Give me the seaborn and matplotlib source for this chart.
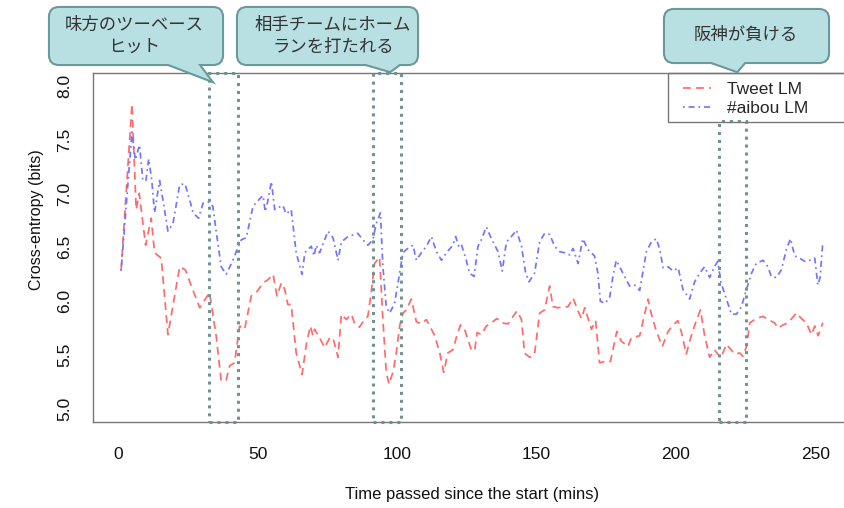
import matplotlib
matplotlib.use("Agg")
import matplotlib.pyplot as plt
import matplotlib.transforms as mtransforms
from matplotlib.patches import FancyBboxPatch, Polygon, Rectangle
import pandas as pd
import seaborn as sns

# ---- data (minutes, bits) ----
tweet_t = [1, 4.9, 6.4, 7.5, 9.8, 11.8, 13, 15.4, 17.8, 22, 24.1, 26.2, 29.2, 32.7,
           35.1, 36.9, 38.7, 39.9, 41.7, 43.5, 45.3, 47.7, 49.5, 51.9, 53.7, 55.5,
           56.9, 58.5, 59.7, 60.8, 62, 63.8, 65.9, 67.5, 68.9, 69.8, 70.4, 72.2, 74,
           75.8, 77, 78.8, 80, 81.8, 83.6, 84.8, 86.5, 88.3, 89.5, 90.7, 91.9, 93.7,
           94.9, 96.1, 97.1, 98.6, 99.7, 100.9, 102.1, 103.3, 105.1, 106.9, 108.7,
           110.5, 113.5, 115.3, 116.7, 118.2, 120, 121.2, 122.7, 124.2, 126.6, 127.8,
           128.7, 130.2, 132, 133.8, 135.8, 137.4, 139.8, 141.6, 143, 144.6, 145.7,
           147.5, 149.3, 151.1, 152.9, 154.7, 155.9, 157.7, 161.3, 163.1, 164.9,
           166.1, 167.3, 169.7, 171.2, 172.6, 174.5, 176.5, 178.8, 180.4, 182.8, 184,
           187, 190, 191.2, 193, 195.1, 197.2, 199, 200.7, 201.9, 203.7, 205.5, 207.3,
           208.8, 210.3, 212.1, 213.8, 215, 216.2, 218.1, 221.1, 222.9, 224, 225.3,
           226.5, 228.8, 231.2, 233, 235.4, 236.6, 238.4, 240.2, 243.2, 245, 246.8,
           248.6, 249.8, 251, 252.7]
tweet_ce = [6.29, 7.83, 6.85, 7.00, 6.52, 6.77, 6.45, 6.40, 5.69, 6.32, 6.29, 6.14, 5.94, 6.08,
            5.68, 5.26, 5.27, 5.40, 5.43, 5.77, 5.74, 6.05, 6.08, 6.17, 6.20, 6.25,
            6.05, 6.17, 6.11, 5.97, 5.97, 5.52, 5.32, 5.61, 5.77, 5.68, 5.74, 5.66, 5.57,
            5.66, 5.66, 5.48, 5.88, 5.83, 5.88, 5.79, 5.76, 5.83, 5.86, 6.08, 6.35, 6.41,
            5.83, 5.34, 5.23, 5.35, 5.52, 5.77, 5.89, 5.92, 6.02, 5.81, 5.79,
            5.83, 5.68, 5.52, 5.34, 5.52, 5.55, 5.66, 5.78, 5.74, 5.55, 5.54,
            5.71, 5.69, 5.77, 5.80, 5.84, 5.80, 5.79, 5.86, 5.91, 5.83, 5.52,
            5.48, 5.51, 5.89, 5.92, 6.14, 5.95, 5.94, 5.95, 6.03, 5.91,
            5.84, 5.94, 5.74, 5.82, 5.43, 5.44, 5.44, 5.72, 5.63, 5.58, 5.66,
            5.68, 6.02, 5.88, 5.72, 5.58, 5.72, 5.78, 5.82, 5.72, 5.51, 5.68, 5.82,
            5.92, 5.68, 5.48, 5.55, 5.51, 5.48, 5.60, 5.51, 5.52, 5.49, 5.58,
            5.80, 5.84, 5.86, 5.83, 5.80, 5.75, 5.78, 5.80, 5.89, 5.84, 5.80,
            5.69, 5.77, 5.68, 5.80]

aibou_t = [1, 4.9, 6.1, 7.6, 8.8, 9.9, 10.9, 12, 13, 14.8, 16, 17.8, 19.6, 22, 23.9,
           25.6, 26.8, 28.8, 30.4, 32.7, 33.9, 35.1, 36.9, 38.7, 41.1, 42.9, 44.1,
           45.9, 48.3, 50.7, 51.9, 52.7, 53.7, 54.9, 56.1, 59, 60.2, 62, 63.8, 65.9,
           66.9, 69.2, 70.2, 71, 72.2, 75.2, 77, 78.8, 80, 82.4, 85.9, 87.7, 89.5,
           91.3, 92.5, 94, 94.9, 96.1, 97.3, 99.1, 100.9, 102.1, 103.3, 105.7, 106.9,
           108.7, 110.5, 112.3, 114.1, 115.9, 117.7, 120, 121, 122.1, 123, 124.8, 126,
           127.6, 129, 130.2, 132, 133.8, 136.2, 137.7, 139.2, 141, 142.8, 144.6,
           146.1, 147.3, 149.3, 151.1, 152.9, 154.7, 156.5, 158.3, 160.1, 161.9,
           163.1, 164.9, 166.6, 168.4, 170.8, 172, 172.9, 174.5, 176.2, 177.4, 178.6,
           181, 183.4, 185.2, 187, 189.4, 191.2, 193, 194.2, 195.4, 197.2, 199, 200.8,
           202.5, 204.9, 206.7, 208.5, 210.3, 212.1, 213.8, 215, 216.2, 218.1, 219.9,
           221.7, 223.5, 225.3, 227.1, 228.8, 231.2, 233, 234.2, 236, 237.8, 239.6,
           241.1, 242.6, 244.4, 246.2, 248, 249.8, 250.9, 251.7, 252.7]
aibou_ce = [6.28, 7.57, 7.31, 7.45, 7.12, 7.12, 7.32, 7.12, 6.82, 7.12, 6.94, 6.65, 6.72, 7.08, 7.09,
            6.94, 6.82, 6.77, 6.91, 6.92, 6.88, 6.65, 6.32, 6.25, 6.38, 6.50, 6.57,
            6.59, 6.88, 6.95, 6.98, 6.83, 6.94, 7.11, 6.85, 6.89, 6.81, 6.85, 6.45, 6.25,
            6.45, 6.51, 6.42, 6.52, 6.45, 6.65, 6.59, 6.38, 6.55, 6.60, 6.63, 6.57, 6.52,
            6.57, 6.72, 6.82, 6.32, 5.95, 5.89, 5.98, 6.26, 6.45, 6.48, 6.52, 6.38,
            6.45, 6.51, 6.60, 6.46, 6.38, 6.45, 6.52, 6.60, 6.51, 6.53, 6.38, 6.26,
            6.23, 6.51, 6.57, 6.69, 6.58, 6.46, 6.28, 6.55, 6.60, 6.66, 6.51,
            6.26, 6.18, 6.26, 6.55, 6.63, 6.62, 6.51, 6.46, 6.45, 6.43,
            6.49, 6.35, 6.58, 6.48, 6.42, 6.26, 6.00, 5.98, 6.03, 6.23, 6.38,
            6.26, 6.14, 6.15, 6.10, 6.46, 6.55, 6.58, 6.48, 6.31, 6.32, 6.28, 6.31,
            6.11, 6.02, 6.18, 6.26, 6.32, 6.22, 6.32, 6.37, 6.17, 6.02, 5.88,
            5.88, 5.95, 6.11, 6.26, 6.35, 6.38, 6.32, 6.23, 6.22, 6.29, 6.48,
            6.58, 6.42, 6.40, 6.37, 6.38, 6.40, 6.15, 6.22, 6.55]

series_names = ["Tweet LM", "#aibou LM"]
x_ticks = [0, 50, 100, 150, 200, 250]
y_ticks = [5.0, 5.5, 6.0, 6.5, 7.0, 7.5, 8.0]

# highlighted minutes (start, end) and the callout texts
event_spans = [(32.7, 42.9), (91.5, 101.5), (215.4, 225.2)]
callout_texts = ["味方のツーベース\nヒット", "相手チームにホーム\nランを打たれる", "阪神が負ける"]

W, H = 845, 508
fig = plt.figure(figsize=(W / 100, H / 100), dpi=100)
sns.set_style("white")
plt.rcParams['font.family'] = ['Liberation Sans', 'DejaVu Sans']

# plot box in pixels: left 93, right ~852, top 72.7, bottom 422
ax = fig.add_axes([93 / W, (H - 422) / H, 758.8 / W, 349.3 / H])

df_tweet = pd.DataFrame({"t": tweet_t, "ce": tweet_ce})
df_aibou = pd.DataFrame({"t": aibou_t, "ce": aibou_ce})
sns.lineplot(data=df_tweet, x="t", y="ce", ax=ax, color="#ff6a6a", lw=1.25,
             linestyle=(0, (4.5, 3)), estimator=None, label=series_names[0])
sns.lineplot(data=df_aibou, x="t", y="ce", ax=ax, color="#7474ff", lw=1.25,
             linestyle=(0, (1, 2.2, 3.5, 2.2)), estimator=None, label=series_names[1])

ax.set_xlim(-9.08, 263.08)
ax.set_ylim(4.88, 8.12)
ax.set_xticks(x_ticks)
ax.set_xticklabels([str(v) for v in x_ticks])
ax.set_yticks(y_ticks)
ax.set_yticklabels([f"{v:.1f}" for v in y_ticks], rotation=90, va="center")
ax.set_xlabel("")
ax.set_ylabel("")
for s in ax.spines.values():
    s.set_color("#777777")
    s.set_linewidth(1.0)
ax.tick_params(axis="both", direction="out", length=7.8, width=1, color="#555555",
               labelsize=12.5, labelcolor="#111111")
ax.tick_params(axis="x", pad=10)
ax.tick_params(axis="y", pad=7)

fig.text(472 / W, 1 - 494 / H, "Time passed since the start (mins)", ha="center",
         va="center", fontsize=12, color="#111111")
fig.text(37 / W, 1 - 220 / H, "Cross-entropy (bits)", ha="center", va="center",
         rotation=90, fontsize=11.5, color="#111111")

# legend: frame drawn separately so it runs off the right edge like the original
ax.legend(frameon=False, loc="upper left", bbox_to_anchor=((683 - 93) / 758.8, (422 - 82) / 349.3),
          borderpad=0, borderaxespad=0, fontsize=12.5, handlelength=1.6,
          handletextpad=0.95, labelspacing=0.2)
ov = fig.add_axes([0, 0, 1, 1], zorder=10)
ov.set_xlim(0, W)
ov.set_ylim(H, 0)
ov.axis("off")
ov.patch.set_alpha(0)
ov.add_patch(Rectangle((668, 72.7), 200, 49, fill=False, edgecolor="#777777", lw=1.0,
                       clip_on=False))

# dotted boxes around the events
trans = mtransforms.blended_transform_factory(ax.transData, ax.transAxes)
tops = [1.0, 1.0, 0.8626]
for (a, b), top in zip(event_spans, tops):
    ax.add_patch(Rectangle((a, 0.0), b - a, top, transform=trans, fill=False,
                           edgecolor="#6f9393", lw=2.2, linestyle=(0, (1.0, 1.6)),
                           clip_on=False, zorder=5))

# callout boxes (pixel coords): box, tail (left base, tip, right base), text centre
boxes = [(50, 8, 222, 64), (238, 8, 417, 64), (665, 10, 828, 62)]
tails = [[(158, 60), (210, 80), (195, 60)],
         [(352, 60), (390, 71), (405, 60)],
         [(700, 58), (737, 71), (748, 58)]]
text_pos = [(134, 36), (333, 36), (746, 35)]
fc, ec = "#b8dfe2", "#6b9898"
for (x0, y0, x1, y1), tail, (tx, ty), txt in zip(boxes, tails, text_pos, callout_texts):
    kw = dict(facecolor=fc, edgecolor=ec, lw=3.0)
    ov.add_patch(FancyBboxPatch((x0, y0), x1 - x0, y1 - y0,
                                boxstyle="round,pad=0,rounding_size=9", **kw))
    ov.add_patch(Polygon(tail, closed=True, **kw))
    ov.add_patch(FancyBboxPatch((x0, y0), x1 - x0, y1 - y0,
                                boxstyle="round,pad=0,rounding_size=9",
                                facecolor=fc, edgecolor="none"))
    ov.add_patch(Polygon(tail, closed=True, facecolor=fc, edgecolor="none"))
    ov.text(tx, ty, txt, ha="center", va="center", fontsize=12.5, color="#333333",
            family=["Noto Sans CJK JP", "DejaVu Sans"], linespacing=1.3)

fig.savefig("out.png", dpi=100)
